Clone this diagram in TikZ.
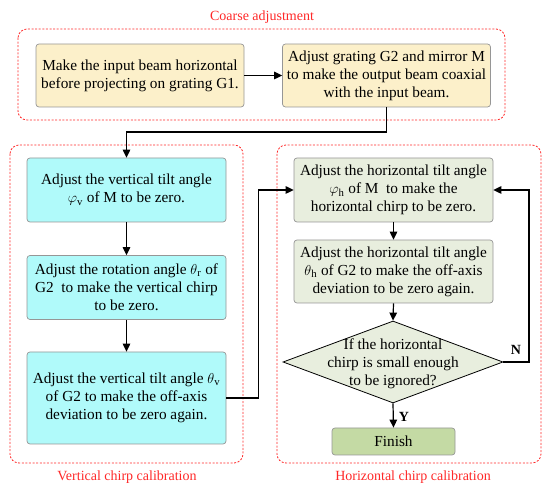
\documentclass[tikz,border=0pt]{standalone}
\usepackage{fontspec}
\setmainfont{Liberation Serif}
\usetikzlibrary{arrows.meta,shapes.geometric}
\definecolor{beige}{RGB}{252,240,202}
\definecolor{cyanbox}{RGB}{176,250,250}
\definecolor{greenbox}{RGB}{232,238,222}
\definecolor{finishbox}{RGB}{196,218,164}
\definecolor{boxedge}{RGB}{150,150,150}
\definecolor{redline}{RGB}{255,40,40}
\tikzset{
  box/.style={draw=boxedge, line width=0.7pt, rounded corners=3pt, align=center,
    inner sep=0pt, font=\fontsize{15.3}{18}\selectfont},
  group/.style={draw=redline, line width=0.8pt, dash pattern=on 2pt off 1.6pt, rounded corners=9pt},
  grouplabel/.style={text=redline, font=\fontsize{14}{17}\selectfont},
  arr/.style={line width=1.2pt, -{Triangle[length=8pt,width=7.5pt]}},
  yn/.style={font=\fontsize{14}{16}\selectfont\bfseries}
}
\begin{document}
\begin{tikzpicture}[x=1pt,y=-1pt]
\useasboundingbox (0,0) rectangle (550,494);
% groups
\node[grouplabel] (tc) at (262,17) {Coarse adjustment};
\draw[group] (18,29) rectangle (505,120);
\draw[group] (10,145) rectangle (243,463);
\node[grouplabel] (tv) at (127,477) {Vertical chirp calibration};
\draw[group] (277,145) rectangle (541,463);
\node[grouplabel] (th) at (413,477) {Horizontal chirp calibration};
% coarse
\node[box, fill=beige, minimum width=208, minimum height=63] (b1) at (140,75.5)
  {Make the input beam horizontal\\before projecting on grating G1.};
\node[box, fill=beige, minimum width=208, minimum height=63] (b2) at (386.5,75.5)
  {Adjust grating G2 and mirror M\\to make the output beam coaxial\\with the input beam.};
% vertical
\node[box, fill=cyanbox, minimum width=199, minimum height=64] (b3) at (126.5,190)
  {Adjust the vertical tilt angle\\$\varphi$\textsubscript{v} of M to be zero.};
\node[box, fill=cyanbox, minimum width=199, minimum height=64] (b4) at (126.5,287.5)
  {Adjust the rotation angle $\theta$\textsubscript{r} of\\G2\ \ to make the vertical chirp\\to be zero.};
\node[box, fill=cyanbox, minimum width=199, minimum height=92] (b5) at (126.5,398)
  {Adjust the vertical tilt angle $\theta$\textsubscript{v}\\of G2 to make the off-axis\\deviation to be zero again.};
% horizontal
\node[box, fill=greenbox, minimum width=199, minimum height=64] (b6) at (393.5,190)
  {Adjust the horizontal tilt angle\\$\varphi$\textsubscript{h} of M\ \ to make the\\horizontal chirp to be zero.};
\node[box, fill=greenbox, minimum width=199, minimum height=63] (b7) at (393.5,271.5)
  {Adjust the horizontal tilt angle\\$\theta$\textsubscript{h} of G2 to make the off-axis\\deviation to be zero again.};
\node[diamond, draw=black, line width=0.8pt, fill=greenbox, minimum width=220, minimum height=82, inner sep=0pt] (dia) at (393,362) {};
\node[align=center, inner sep=0pt, font=\fontsize{15.3}{18}\selectfont] (diat) at (393,364)
  {If the horizontal\\chirp is small enough\\to be ignored?};
\node[box, fill=finishbox, minimum width=123, minimum height=27] (fin) at (393.5,441.5) {Finish};
% connectors
\draw[arr] (b1.east) -- (b2.west);
\coordinate (c1) at (386.5,132);
\draw[arr] (b2.south) -- (c1) -| (b3.north);
\draw[arr] (b3.south) -- (b4.north);
\draw[arr] (b4.south) -- (b5.north);
\coordinate (c2) at (258.5,398);
\draw[arr] (b5.east) -- (c2) |- (b6.west);
\draw[arr] (b6.south) -- (b7.north);
\draw[arr] (b7.south) -- (dia.north);
\draw[arr] (dia.south) -- (fin.north);
\coordinate (c3) at (529,362);
\draw[arr] (dia.east) -- (c3) |- (b6.east);
\node[yn] (nl) at (516,350) {N};
\node[yn] (yl) at (404,417) {Y};
\end{tikzpicture}
\end{document}
